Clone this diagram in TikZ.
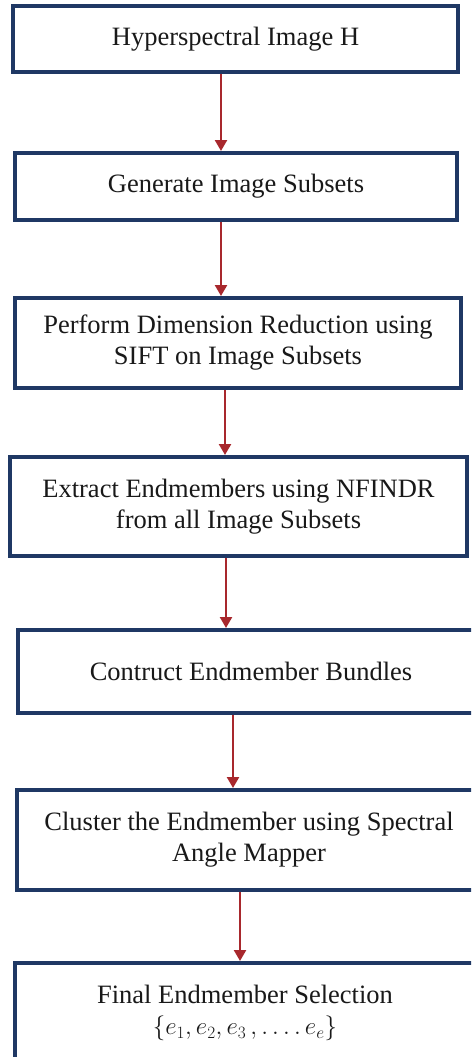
\documentclass[tikz,border=0pt]{standalone}
\usepackage{fontspec}
\setmainfont{Liberation Serif}
\usetikzlibrary{arrows.meta}
\definecolor{boxblue}{RGB}{31,56,100}
\definecolor{arrred}{RGB}{168,40,45}
\tikzset{
  stepbox/.style={draw=boxblue, line width=4pt, fill=white, rectangle, align=center,
    font=\fontsize{26.5}{31}\selectfont, inner sep=0pt, text=black!90},
  arr/.style={draw=arrred, line width=2.4pt, -{Triangle[length=11pt,width=12pt]}}
}
\begin{document}
\begin{tikzpicture}[x=1pt,y=-1pt]
\clip (0,0) rectangle (471,1057);
\fill[white] (0,0) rectangle (471,1057);
\node[stepbox, minimum width=445pt, minimum height=66pt] (b1) at (235.5,39) {Hyperspectral Image H};
\node[stepbox, minimum width=442pt, minimum height=67pt] (b2) at (236,186.5) {Generate Image Subsets};
\node[stepbox, minimum width=446pt, minimum height=90pt] (b3) at (238,343) {Perform Dimension Reduction using\\SIFT on Image Subsets};
\node[stepbox, minimum width=457pt, minimum height=99pt] (b4) at (238.5,506.5) {Extract Endmembers using NFINDR\\from all Image Subsets};
\node[stepbox, minimum width=466pt, minimum height=83pt] (b5) at (251,671.5) {Contruct Endmember Bundles};
\node[stepbox, minimum width=464pt, minimum height=100pt] (b6) at (249,840) {Cluster the Endmember using Spectral\\Angle Mapper};
\node[stepbox, minimum width=460pt, minimum height=100pt] (b7) at (245,1013) {Final Endmember Selection\\[0pt]{\fontsize{27}{30}\selectfont$\{e_1, e_2, e_3\,, \ldots.\, e_e\}$}};
\coordinate (x1) at (221,0);
\coordinate (x2) at (221,0);
\coordinate (x3) at (225,0);
\coordinate (x4) at (226,0);
\coordinate (x5) at (233,0);
\coordinate (x6) at (240,0);
\draw[arr] (b1.south -| x1) -- (b2.north -| x1);
\draw[arr] (b2.south -| x2) -- (b3.north -| x2);
\draw[arr] (b3.south -| x3) -- (b4.north -| x3);
\draw[arr] (b4.south -| x4) -- (b5.north -| x4);
\draw[arr] (b5.south -| x5) -- (b6.north -| x5);
\draw[arr] (b6.south -| x6) -- (b7.north -| x6);
\end{tikzpicture}
\end{document}
